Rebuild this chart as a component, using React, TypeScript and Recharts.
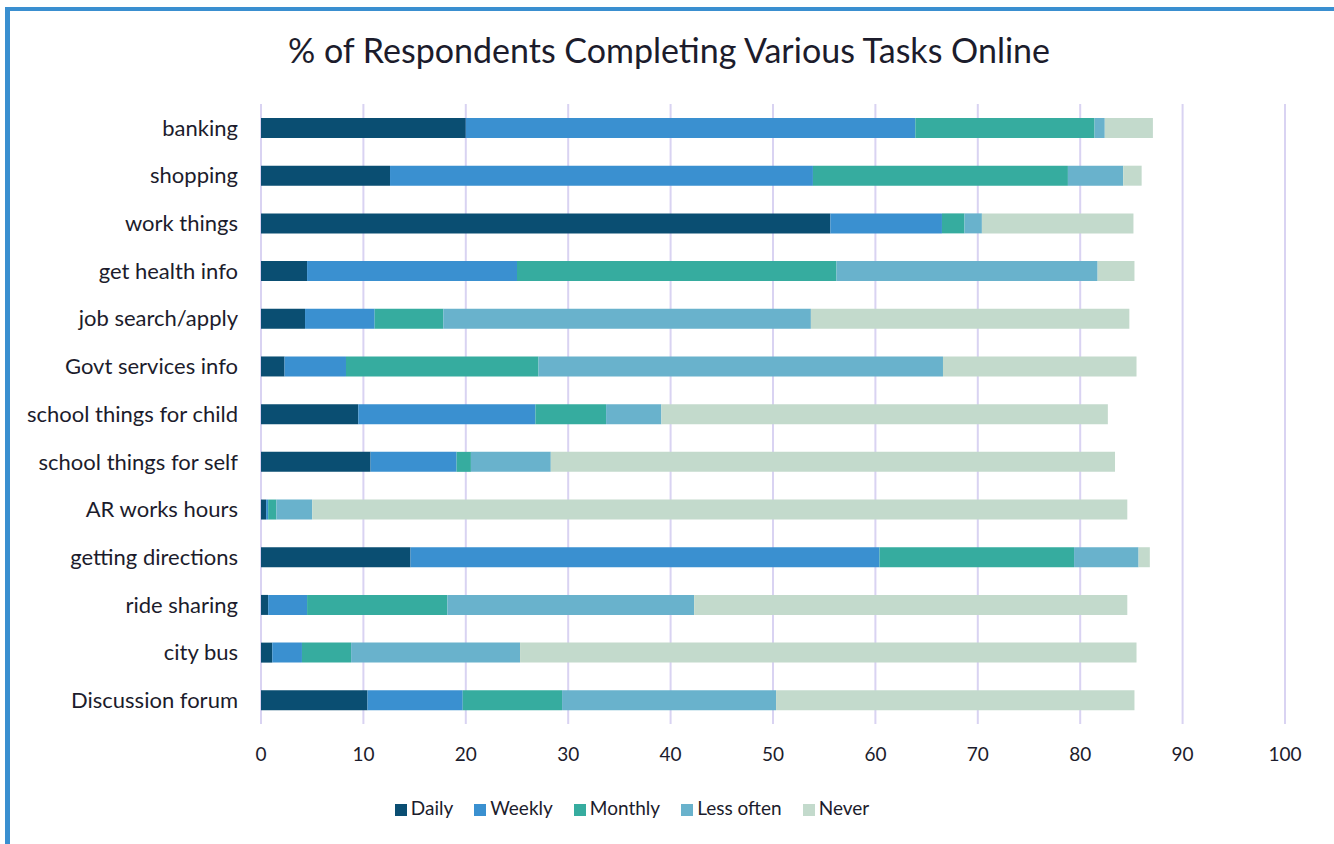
import * as React from "react";
import { BarChart, Bar, XAxis, YAxis, CartesianGrid, Legend } from "recharts";

const categories = [
  "banking",
  "shopping",
  "work things",
  "get health info",
  "job search/apply",
  "Govt services info",
  "school things for child",
  "school things for self",
  "AR works hours",
  "getting directions",
  "ride sharing",
  "city bus",
  "Discussion forum",
];

const daily = [20.0, 12.6, 55.6, 4.5, 4.3, 2.3, 9.5, 10.7, 0.5, 14.6, 0.7, 1.1, 10.4];
const weekly = [43.9, 41.3, 10.9, 20.5, 6.8, 6.0, 17.3, 8.4, 0.2, 45.8, 3.8, 2.9, 9.3];
const monthly = [17.5, 24.9, 2.2, 31.2, 6.7, 18.8, 6.9, 1.4, 0.8, 19.0, 13.7, 4.8, 9.7];
const lessOften = [1.0, 5.4, 1.7, 25.5, 35.9, 39.5, 5.4, 7.8, 3.5, 6.3, 24.1, 16.5, 20.9];
const never = [4.7, 1.8, 14.8, 3.6, 31.1, 18.9, 43.6, 55.1, 79.6, 1.1, 42.3, 60.2, 35.0];

const xTicks = [0, 10, 20, 30, 40, 50, 60, 70, 80, 90, 100];

const series = [
  { key: "Daily", color: "#0a4e72" },
  { key: "Weekly", color: "#3a90d0" },
  { key: "Monthly", color: "#36ac9f" },
  { key: "Less often", color: "#69b2cc" },
  { key: "Never", color: "#c3dacc" },
];

const data = categories.map((name, i) => ({
  name,
  Daily: daily[i],
  Weekly: weekly[i],
  Monthly: monthly[i],
  "Less often": lessOften[i],
  Never: never[i],
}));

const FONT = "Lato, 'Open Sans', sans-serif";
const TEXT = "#1c1c2c";

// keep legend in series order instead of alphabetical
const legendOrder = (item: any) => series.findIndex((s) => s.key === item.value);

export default function App() {
  return (
    <div style={{ position: "absolute", left: 0, top: 0, width: 1334, height: 844, background: "#fff", overflow: "hidden", fontFamily: FONT }}>
      <div
        style={{
          position: "absolute",
          left: 5,
          top: 7,
          width: 1335,
          height: 850,
          boxSizing: "border-box",
          border: "4px solid #3a8fd0",
          borderLeftWidth: 5,
        }}
      />
      <div
        style={{
          position: "absolute",
          left: 0,
          top: 28,
          width: 1338,
          textAlign: "center",
          fontSize: 34,
          color: TEXT,
          lineHeight: "44px",
        }}
      >
        % of Respondents Completing Various Tasks Online
      </div>
      <div style={{ position: "absolute", left: 0, top: 0 }}>
        <BarChart
          width={1334}
          height={844}
          data={data}
          layout="vertical"
          margin={{ top: 104, right: 49, bottom: 25, left: 0 }}
          barSize={20}
        >
          <CartesianGrid horizontal={false} stroke="#d9d3f2" strokeWidth={2} />
          <XAxis
            type="number"
            domain={[0, 100]}
            ticks={xTicks}
            axisLine={false}
            tickLine={false}
            tickMargin={18}
            height={73}
            tick={{ fill: TEXT, fontSize: 19, fontFamily: FONT }}
          />
          <YAxis
            type="category"
            dataKey="name"
            width={261}
            axisLine={false}
            tickLine={false}
            tickMargin={17}
            interval={0}
            tick={{ fill: TEXT, fontSize: 22, fontFamily: FONT }}
          />
          <Legend
            verticalAlign="bottom"
            align="center"
            iconType="square"
            iconSize={12}
            itemSorter={legendOrder}
            wrapperStyle={{ fontSize: 19, lineHeight: "22px", fontFamily: FONT }}
            formatter={(value) => <span style={{ color: TEXT, marginRight: 11 }}>{value}</span>}
          />
          {series.map((s) => (
            <Bar key={s.key} dataKey={s.key} stackId="a" fill={s.color} isAnimationActive={false} />
          ))}
        </BarChart>
      </div>
    </div>
  );
}
